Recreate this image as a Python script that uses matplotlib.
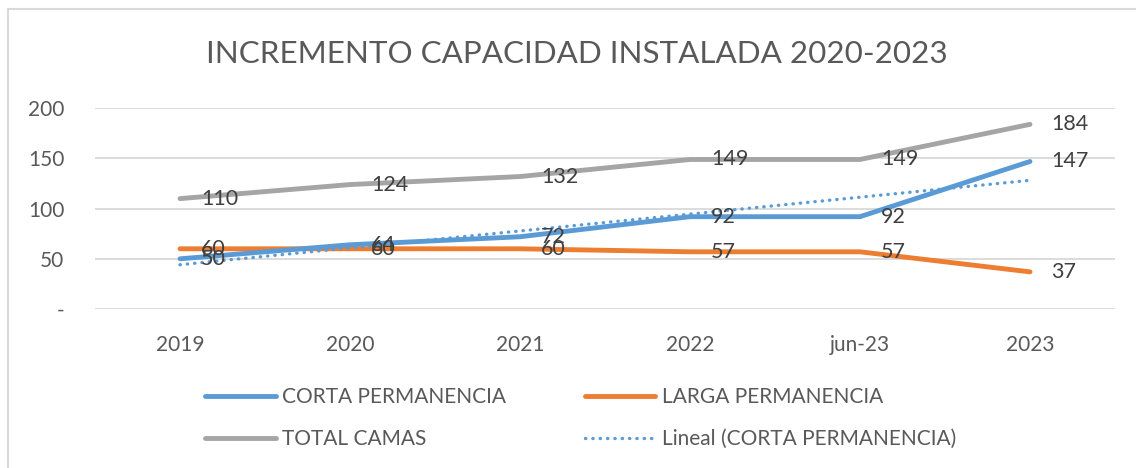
import numpy as np
import matplotlib
matplotlib.use("Agg")
from matplotlib import pyplot as plt
from matplotlib.lines import Line2D

# data
categories = ["2019", "2020", "2021", "2022", "jun-23", "2023"]
corta = [50, 64, 72, 92, 92, 147]
larga = [60, 60, 60, 57, 57, 37]
total = [110, 124, 132, 149, 149, 184]
y_ticks = [0, 50, 100, 150, 200]
y_tick_labels = ["-", "50", "100", "150", "200"]

BLUE = "#5B9BD5"
ORANGE = "#ED7D31"
GRAY = "#A5A5A5"
TXT = "#595959"
LBL = "#404040"

plt.rcParams["font.family"] = ["Lato", "DejaVu Sans"]

W, H = 1136, 468
fig = plt.figure(figsize=(W / 100, H / 100), dpi=100)
ax = fig.add_axes([95 / W, (H - 309) / H, 1020 / W, (309 - 108.3) / H])

x = np.arange(len(categories))

# linear trend of CORTA PERMANENCIA (Excel "Lineal")
m, b = np.polyfit(x, corta, 1)
trend = m * x + b

l_total, = ax.plot(x, total, color=GRAY, lw=3.5, solid_capstyle="round", zorder=3)
l_corta, = ax.plot(x, corta, color=BLUE, lw=3.5, solid_capstyle="round", zorder=4)
l_larga, = ax.plot(x, larga, color=ORANGE, lw=3.5, solid_capstyle="round", zorder=3)
l_trend, = ax.plot(x, trend, color=BLUE, lw=2.4, linestyle=(0, (0.1, 2.1)),
                   dash_capstyle="round", zorder=5)

for series in (corta, larga, total):
    for xi, v in zip(x, series):
        ax.annotate(str(v), (xi, v), xytext=(15, 0), textcoords="offset points",
                    ha="left", va="center", fontsize=15.5, color=LBL, zorder=6)

ax.set_xlim(-0.5, len(categories) - 0.5)
ax.set_ylim(0, 200)
ax.set_xticks(x)
ax.set_xticklabels(categories)
ax.set_yticks(y_ticks)
ax.set_yticklabels(y_tick_labels)
ax.tick_params(length=0, labelsize=15, colors=TXT)
ax.tick_params(axis="x", pad=19)
ax.tick_params(axis="y", pad=22)
ax.grid(axis="y", color="#D9D9D9", lw=1.3)
ax.set_axisbelow(True)
for s in ax.spines.values():
    s.set_visible(False)

fig.text(577 / W, 1 - 54 / H, "INCREMENTO CAPACIDAD INSTALADA 2020-2023",
         ha="center", va="center", fontsize=22.6, color=TXT)

leg = fig.legend([l_corta, l_total, l_larga, l_trend],
                 ["CORTA PERMANENCIA", "TOTAL CAMAS", "LARGA PERMANENCIA",
                  "Lineal (CORTA PERMANENCIA)"],
                 ncol=2, loc="upper left", bbox_to_anchor=(195 / W, 1 - 377 / H),
                 frameon=False, fontsize=15, handlelength=3.4, handletextpad=0.3,
                 columnspacing=3.75, labelspacing=1.05, borderpad=0)
for t in leg.get_texts():
    t.set_color(TXT)

# chart area border (partially visible)
fig.add_artist(Line2D([8 / W, 8 / W], [0, 1 - 9 / H], color="#D9D9D9", lw=1.5))
fig.add_artist(Line2D([8 / W, 1], [1 - 9 / H, 1 - 9 / H], color="#D9D9D9", lw=1.5))

fig.savefig("out.png", dpi=100)
